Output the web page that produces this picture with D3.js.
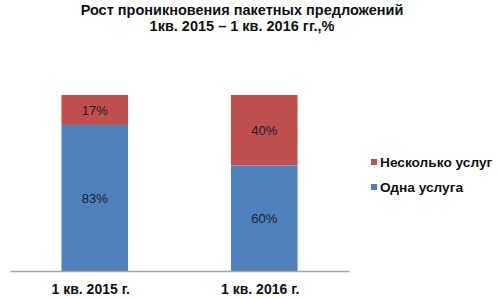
<!DOCTYPE html>
<html>
<head>
<meta charset="utf-8">
<script src="https://cdn.jsdelivr.net/npm/d3@7"></script>
<style>
  body { margin: 0; background: #fff; }
  text { font-family: "Liberation Sans", Arial, sans-serif; }
</style>
</head>
<body>
<svg></svg>
<script>
// Chart data
const categories = ["1 кв. 2015 г.", "1 кв. 2016 г."];
const seriesNames = ["Одна услуга", "Несколько услуг"];
const oneService = [83, 60];
const severalServices = [17, 40];
const titleLines = ["Рост проникновения пакетных предложений", "1кв. 2015 – 1 кв. 2016 гг.,%"];

const colors = { "Одна услуга": "#4F81BD", "Несколько услуг": "#C0504D" };

const width = 500;
const height = 300;
const marginTop = 95;
const marginBottom = 29;
const marginLeft = 10;
const plotRight = 349;

const table = categories.map((c, i) => ({
    cat: c,
    "Одна услуга": oneService[i],
    "Несколько услуг": severalServices[i]
}));

const stack = d3.stack().keys(seriesNames)(table);

const x = d3.scaleBand(categories, [marginLeft, plotRight])
    .paddingInner(0.607)
    .paddingOuter(0.3035);

const y = d3.scaleLinear([0, 100], [height - marginBottom, marginTop]);

const svg = d3.select("svg")
    .attr("width", width)
    .attr("height", height)
    .attr("viewBox", [0, 0, width, height]);

// Title
svg.append("text")
    .attr("x", 242)
    .attr("text-anchor", "middle")
    .attr("font-weight", "bold")
    .attr("font-size", 14.5)
    .attr("fill", "#111")
    .selectAll("tspan")
    .data(titleLines)
    .join("tspan")
    .attr("x", 242)
    .attr("y", (d, i) => 15 + i * 15.5)
    .text(d => d);

// Bars
const groups = svg.append("g")
    .selectAll("g")
    .data(stack)
    .join("g")
    .attr("fill", d => colors[d.key]);

groups.selectAll("rect")
    .data(d => d)
    .join("rect")
    .attr("x", d => x(d.data.cat))
    .attr("y", d => y(d[1]))
    .attr("width", x.bandwidth())
    .attr("height", d => y(d[0]) - y(d[1]));

// Value labels
groups.selectAll("text")
    .data(d => d)
    .join("text")
    .attr("x", d => x(d.data.cat) + x.bandwidth() / 2)
    .attr("y", d => (y(d[0]) + y(d[1])) / 2)
    .attr("dy", "0.35em")
    .attr("text-anchor", "middle")
    .attr("font-size", 13)
    .attr("fill", "#1a1a2e")
    .text(d => (d[1] - d[0]) + "%");

// X axis
svg.append("g")
    .attr("transform", `translate(0,${height - marginBottom})`)
    .call(d3.axisBottom(x).tickSize(0).tickPadding(13))
    .call(g => g.select(".domain").attr("stroke", "#a6a6a6").attr("stroke-width", 1.5))
    .call(g => g.selectAll(".tick text")
        .attr("font-size", 14)
        .attr("font-weight", "bold")
        .attr("font-family", "Liberation Sans, Arial, sans-serif")
        .attr("fill", "#111")
        .attr("dx", -4));

// Legend
const legendItems = ["Несколько услуг", "Одна услуга"];
const legend = svg.append("g")
    .selectAll("g")
    .data(legendItems)
    .join("g")
    .attr("transform", (d, i) => `translate(371,${159 + i * 25})`);

legend.append("rect")
    .attr("width", 6)
    .attr("height", 6)
    .attr("fill", d => colors[d]);

legend.append("text")
    .attr("x", 9)
    .attr("y", 3)
    .attr("dy", "0.35em")
    .attr("font-size", 13.7)
    .attr("font-weight", "bold")
    .attr("fill", "#111")
    .text(d => d);
</script>
</body>
</html>
